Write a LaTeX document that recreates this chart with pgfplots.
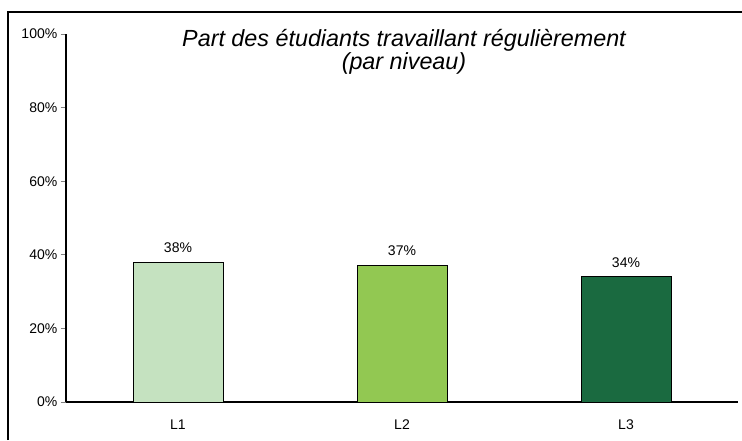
\documentclass[border=0pt]{standalone}
\usepackage{pgfplots}
\pgfplotsset{compat=1.18}
\usepackage{fontspec}
\setmainfont{Liberation Sans}
\definecolor{cA}{RGB}{197,226,192}
\definecolor{cB}{RGB}{146,200,82}
\definecolor{cC}{RGB}{26,106,64}
\begin{document}
\begin{tikzpicture}
\useasboundingbox (-49.5pt,-28.5pt) rectangle (507pt,301.5pt);
\draw[line width=0.9pt] (-43.5pt,-28.5pt) -- (-43.5pt,292.5pt) -- (507pt,292.5pt);
\begin{axis}[
  at={(0pt,0pt)}, anchor=south west,
  scale only axis, width=504pt, height=276pt,
  xmin=-0.5, xmax=2.5, ymin=0, ymax=100,
  axis x line*=bottom, axis y line*=left,
  axis line style={line width=0.8pt},
  ytick={0,20,40,60,80,100},
  yticklabel={\pgfmathprintnumber{\tick}\%},
  /pgf/number format/assume math mode=true,
  ticklabel style={font=\fontsize{10.5}{12}\selectfont},
  yticklabel style={xshift=1pt},
  ytick style={line width=0.6pt},
  tick align=outside,
  major tick length=4pt,
  xtick={0,1,2},
  xticklabels={L1,L2,L3},
  xtick style={draw=none},
  xticklabel style={yshift=-6pt},
  extra x ticks={-0.5,0.5,1.5,2.5},
  extra x tick labels={},
  extra x tick style={tick style={draw=black, line width=0.6pt}, major tick length=3pt},
  nodes near coords={\pgfmathprintnumber{\pgfplotspointmeta}\%},
  nodes near coords style={font=\fontsize{10.5}{12}\selectfont, anchor=south, inner sep=0pt, yshift=7pt},
  clip=false,
]
\addplot[ybar, bar width=67.5pt, bar shift=0pt, fill=cA, draw=black, line width=0.6pt] coordinates {(0,38)};
\addplot[ybar, bar width=67.5pt, bar shift=0pt, fill=cB, draw=black, line width=0.6pt] coordinates {(1,37)};
\addplot[ybar, bar width=67.5pt, bar shift=0pt, fill=cC, draw=black, line width=0.6pt] coordinates {(2,34)};
\end{axis}
\node[anchor=base, font=\itshape\fontsize{17.5}{13.5}\selectfont, inner sep=0pt] at (253.5pt,266.5pt) {Part des étudiants travaillant régulièrement};
\node[anchor=base, font=\itshape\fontsize{17.5}{13.5}\selectfont, inner sep=0pt] at (253.5pt,249.5pt) {(par niveau)};
\end{tikzpicture}
\end{document}
